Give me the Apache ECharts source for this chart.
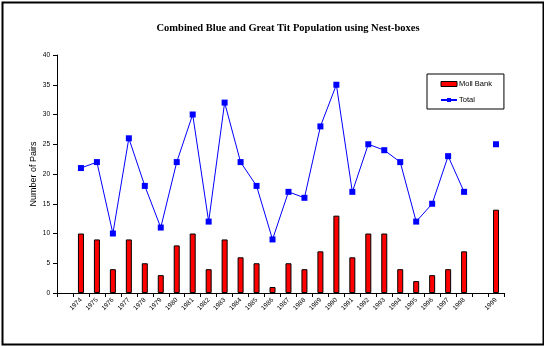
<!DOCTYPE html>
<html>
<head>
<meta charset="utf-8">
<script src="https://cdn.jsdelivr.net/npm/echarts@6/dist/echarts.min.js"></script>
<style>
html,body{margin:0;padding:0;background:#fff;}
#chart{width:544px;height:346px;}
</style>
</head>
<body>
<div id="chart"></div>
<script>
var categories = ['', '1974', '1975', '1976', '1977', '1978', '1979', '1980', '1981', '1982', '1983', '1984', '1985', '1986', '1987', '1988', '1989', '1990', '1991', '1992', '1993', '1994', '1995', '1996', '1997', '1998', '', '1999'];
var mollBank = [null, 10, 9, 4, 9, 5, 3, 8, 10, 4, 9, 6, 5, 1, 5, 4, 7, 13, 6, 10, 10, 4, 2, 3, 4, 7, null, 14];
var total = [null, 21, 22, 10, 26, 18, 11, 22, 30, 12, 32, 22, 18, 9, 17, 16, 28, 35, 17, 25, 24, 22, 12, 15, 23, 17, null, 25];
var yTicks = [0, 5, 10, 15, 20, 25, 30, 35, 40];

var chart = echarts.init(document.getElementById('chart'), null, {renderer: 'canvas'});
chart.setOption({
  animation: false,
  backgroundColor: '#ffffff',
  title: {
    text: 'Combined Blue and Great Tit Population using Nest-boxes',
    left: 283, top: 18, textAlign: 'center',
    textStyle: {fontFamily: 'Liberation Serif', fontWeight: 'bold', fontSize: 10.5, color: '#000'}
  },
  legend: {
    orient: 'vertical',
    left: 427, top: 74,
    padding: [6, 12, 5, 13],
    itemGap: 8,
    itemWidth: 16, itemHeight: 5,
    borderColor: '#000', borderWidth: 1,
    textStyle: {fontFamily: 'Liberation Sans', fontSize: 7.5, color: '#000', padding: [0, 0, 0, -3]},
    data: [
      {name: 'Moll Bank', icon: 'rect', itemStyle: {color: '#ff0000', borderColor: '#000', borderWidth: 1}},
      {name: 'Total'}
    ]
  },
  grid: {left: 57, right: 40, top: 55, bottom: 53, containLabel: false},
  xAxis: {
    type: 'category',
    data: categories,
    boundaryGap: true,
    axisLine: {lineStyle: {color: '#000', width: 1}},
    axisTick: {show: true, interval: 0, length: 4, lineStyle: {color: '#000'}},
    axisLabel: {interval: 0, rotate: 45, fontSize: 6.5, fontFamily: 'Liberation Sans', color: '#000', margin: 6},
    splitLine: {show: false}
  },
  yAxis: {
    type: 'value',
    min: yTicks[0], max: yTicks[yTicks.length - 1], interval: 5,
    name: 'Number of Pairs',
    nameLocation: 'middle',
    nameGap: 19,
    nameMoveOverlap: false,
    nameTextStyle: {fontFamily: 'Liberation Sans', fontSize: 9, color: '#000'},
    axisLine: {show: true, lineStyle: {color: '#000', width: 1}},
    axisTick: {show: true, length: 4, lineStyle: {color: '#000'}},
    axisLabel: {fontSize: 6.5, fontFamily: 'Liberation Sans', color: '#000', margin: 7},
    splitLine: {show: false}
  },
  series: [
    {
      name: 'Moll Bank', type: 'bar', data: mollBank,
      barWidth: 6,
      itemStyle: {color: '#ff0000', borderColor: '#000', borderWidth: 1}
    },
    {
      name: 'Total', type: 'line', data: total,
      connectNulls: false,
      symbol: 'rect', symbolSize: 6, showAllSymbol: true,
      lineStyle: {color: '#0000ff', width: 1},
      itemStyle: {color: '#0000ff'}
    }
  ],
  graphic: [{
    type: 'rect', left: 0, top: 0,
    shape: {x: 1, y: 1, width: 541, height: 342},
    style: {fill: null, stroke: '#000', lineWidth: 2},
    silent: true
  }]
});
</script>
</body>
</html>
